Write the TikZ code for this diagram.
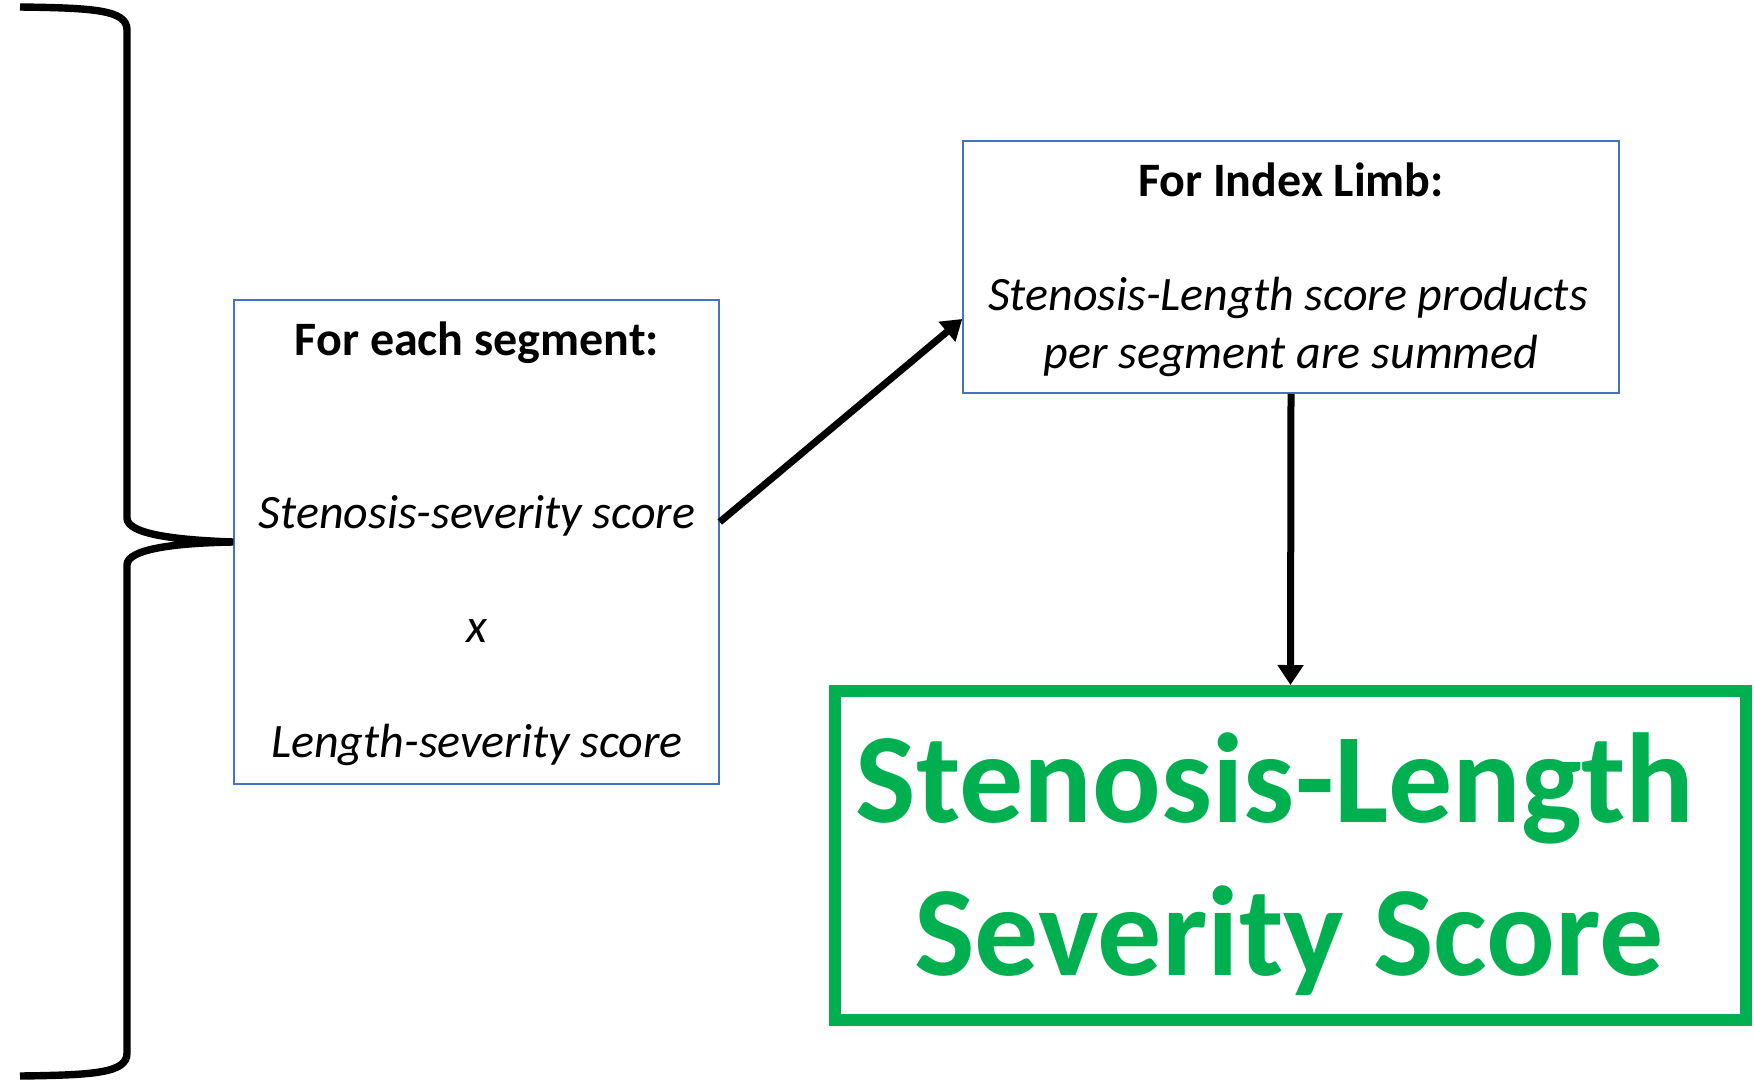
\documentclass[tikz,border=0pt]{standalone}
\usepackage{fontspec}
\setmainfont{Carlito}
\usetikzlibrary{arrows.meta}
\definecolor{boxblue}{HTML}{4472C4}
\definecolor{scoregreen}{HTML}{00B050}
\begin{document}
\begin{tikzpicture}[x=0.5pt,y=-0.5pt,
  infobox/.style={draw=boxblue, line width=0.75pt, inner sep=0pt},
  titletext/.style={font=\fontsize{24}{29}\selectfont\bfseries, anchor=base, inner sep=0pt},
  bodytext/.style={font=\fontsize{24}{29}\selectfont\itshape, anchor=base, inner sep=0pt},
  bigtext/.style={font=\fontsize{64}{76}\selectfont\bfseries, text=scoregreen, anchor=base, inner sep=0pt},
  flow/.style={line width=3.5pt, -{Triangle[length=10pt,width=12.5pt]}},
  bracestyle/.style={line width=3.7pt}]
\useasboundingbox (0,0) rectangle (1754,1081);
% boxes
\node[infobox, minimum width=242.5pt, minimum height=242pt] (seg) at (476.5,542) {};
\node[infobox, minimum width=328pt, minimum height=126pt] (limb) at (1291,267) {};
\node[draw=scoregreen, line width=6pt, inner sep=0pt, minimum width=455.5pt, minimum height=164.5pt] (sls) at (1290.5,855.5) {};
% texts box 1
\node[titletext] (segtitle) at (477,355) {For each segment:};
\node[bodytext] (segs) at (477,528) {Stenosis-severity score};
\node[bodytext] (segx) at (477,642) {x};
\node[bodytext] (segl) at (477,757) {Length-severity score};
% texts box 2
\node[titletext] (limbtitle) at (1291,196) {For Index Limb:};
\node[bodytext] (limb1) at (1288,310) {Stenosis-Length score products};
\node[bodytext] (limb2) at (1291,368) {per segment are summed};
% green texts
\node[bigtext] (sls1) at (1275,822) {Stenosis-Length};
\node[bigtext] (sls2) at (1289,975) {Severity Score};
% brace
\coordinate (bracetop) at (20,7);
\coordinate (bracebot) at (20,1076);
\draw[bracestyle] (bracetop) .. controls (95,8) and (127,10) .. (127,30)
  -- (127,518) .. controls (127,534) and (175,540) .. (seg.west)
  .. controls (175,543) and (127,549) .. (127,565)
  -- (127,1053) .. controls (127,1073) and (95,1075) .. (bracebot);
% arrows
\draw[flow] ([yshift=10pt]seg.east) -- ([yshift=-26pt]limb.west);
\draw[flow] (limb.south) -- (sls.north);
\end{tikzpicture}
\end{document}
